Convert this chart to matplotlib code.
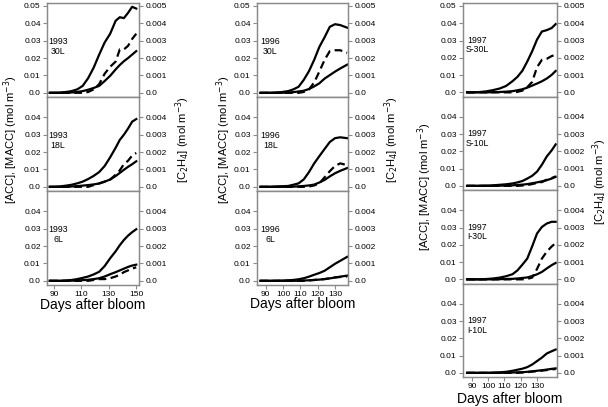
import numpy as np
import matplotlib.pyplot as plt

plt.rcParams['font.family'] = ['Liberation Sans', 'DejaVu Sans']

# sampling days (days after bloom)
days_93 = [87, 91, 95, 99, 103, 107, 111, 115, 119, 123, 127, 131, 135, 138, 141, 144, 147, 150]
days_96 = [87, 91, 95, 99, 103, 106, 109, 112, 115, 118, 121, 124, 127, 130, 133, 137]
days_97 = [87, 91, 95, 99, 103, 107, 111, 115, 118, 121, 124, 127, 130, 133, 136, 139, 141.5]

# 1993
acc_93_30L = [0.0, 0.0, 0.0002, 0.0005, 0.001, 0.002, 0.004, 0.0085, 0.0145, 0.022, 0.029, 0.034, 0.0415, 0.0435, 0.043, 0.046, 0.0495, 0.0485]
macc_93_30L = [0.0, 0.0, 0.0, 0.0001, 0.0002, 0.0005, 0.001, 0.0018, 0.0028, 0.004, 0.0068, 0.0098, 0.0135, 0.016, 0.0182, 0.020, 0.022, 0.024]
eth_93_30L = [0, 0, 0, 0, 0, 0, 0, 0.00005, 0.0002, 0.0005, 0.0011, 0.0015, 0.0018, 0.0025, 0.0025, 0.0027, 0.0031, 0.0034]

acc_93_18L = [0.0, 0.0, 0.0003, 0.0007, 0.0012, 0.002, 0.003, 0.0045, 0.0063, 0.0085, 0.012, 0.017, 0.0225, 0.027, 0.030, 0.0335, 0.0375, 0.039]
macc_93_18L = [0, 0, 0, 0, 0.0002, 0.0004, 0.0007, 0.001, 0.0014, 0.0019, 0.003, 0.0042, 0.0062, 0.008, 0.0098, 0.0115, 0.013, 0.0147]
eth_93_18L = [0, 0, 0, 0, 0, 0, 0, 0, 0.0001, 0.0002, 0.0003, 0.00042, 0.0007, 0.00095, 0.0013, 0.0015, 0.0018, 0.00195]

acc_93_6L = [0, 0, 0, 0.0002, 0.0005, 0.001, 0.0017, 0.0025, 0.0037, 0.0052, 0.0085, 0.013, 0.017, 0.0205, 0.0235, 0.026, 0.028, 0.0297]
macc_93_6L = [0, 0, 0, 0, 0.0001, 0.0002, 0.0004, 0.0006, 0.001, 0.0015, 0.0025, 0.0038, 0.005, 0.006, 0.007, 0.008, 0.0088, 0.0093]
eth_93_6L = [0, 0, 0, 0, 0, 0, 0, 0, 0.00005, 0.0001, 0.0001, 0.00015, 0.00025, 0.00035, 0.0005, 0.0006, 0.0007, 0.00078]

# 1996
acc_96_30L = [0, 0, 0.0001, 0.0004, 0.001, 0.002, 0.0035, 0.0075, 0.0125, 0.019, 0.0265, 0.032, 0.038, 0.0395, 0.039, 0.0375]
macc_96_30L = [0, 0, 0, 0, 0.0002, 0.0004, 0.0008, 0.0012, 0.0022, 0.0037, 0.0055, 0.0082, 0.0102, 0.0122, 0.014, 0.0162]
eth_96_30L = [0, 0, 0, 0, 0, 0, 0, 0.00005, 0.0002, 0.0006, 0.00123, 0.0019, 0.0024, 0.00245, 0.00245, 0.0023]

acc_96_18L = [0, 0, 0.0001, 0.0003, 0.0005, 0.0012, 0.002, 0.0043, 0.0085, 0.0135, 0.0177, 0.0218, 0.0258, 0.028, 0.0285, 0.028]
macc_96_18L = [0, 0, 0, 0, 0, 0.0001, 0.0003, 0.0005, 0.0008, 0.0013, 0.0025, 0.004, 0.006, 0.0078, 0.0092, 0.0108]
eth_96_18L = [0, 0, 0, 0, 0, 0, 0, 0, 0.00002, 0.00008, 0.0002, 0.00055, 0.0009, 0.0012, 0.00135, 0.00125]

acc_96_6L = [0, 0, 0, 0.0001, 0.0003, 0.0005, 0.0009, 0.0015, 0.0024, 0.0035, 0.0045, 0.0058, 0.0078, 0.0098, 0.0115, 0.0138]
macc_96_6L = [0, 0, 0, 0, 0, 0, 0.0001, 0.0002, 0.0003, 0.0005, 0.0007, 0.001, 0.0014, 0.0019, 0.0024, 0.003]
eth_96_6L = [0, 0, 0, 0, 0, 0, 0, 0, 0.00002, 0.00005, 0.00008, 0.0001, 0.00015, 0.0002, 0.00022, 0.00025]

# 1997
acc_97_S30L = [0, 0, 0.0002, 0.0006, 0.0013, 0.0022, 0.0037, 0.0065, 0.009, 0.0125, 0.0178, 0.0237, 0.0305, 0.0352, 0.036, 0.0372, 0.0395]
macc_97_S30L = [0, 0, 0, 0, 0.0001, 0.0002, 0.0004, 0.0007, 0.0012, 0.0018, 0.0027, 0.0039, 0.0051, 0.0064, 0.008, 0.0101, 0.0124]
eth_97_S30L = [0, 0, 0, 0, 0, 0, 0, 0, 0.00003, 0.0001, 0.0003, 0.0006, 0.00145, 0.00188, 0.00194, 0.0021, 0.00217]

acc_97_S10L = [0, 0, 0, 0.0001, 0.0003, 0.0006, 0.0009, 0.0014, 0.002, 0.0028, 0.0042, 0.0058, 0.0082, 0.0122, 0.017, 0.0205, 0.024]
macc_97_S10L = [0, 0, 0, 0, 0, 0.0001, 0.0002, 0.0003, 0.0005, 0.0007, 0.001, 0.0015, 0.002, 0.0026, 0.0033, 0.0042, 0.0052]
eth_97_S10L = [0, 0, 0, 0, 0, 0, 0, 0, 0, 0.00002, 0.00005, 0.0001, 0.00017, 0.00022, 0.00035, 0.00045, 0.00055]

acc_97_I30L = [0, 0, 0, 0.0002, 0.0005, 0.001, 0.0018, 0.003, 0.0052, 0.0085, 0.012, 0.019, 0.0265, 0.0303, 0.0323, 0.0333, 0.0333]
macc_97_I30L = [0, 0, 0, 0, 0, 0.0001, 0.0002, 0.0003, 0.0005, 0.0008, 0.0011, 0.0019, 0.0029, 0.0043, 0.0063, 0.0082, 0.0095]
eth_97_I30L = [0, 0, 0, 0, 0, 0, 0, 0, 0, 0, 0.00003, 0.0001, 0.0006, 0.0012, 0.0016, 0.0019, 0.0021]

acc_97_I10L = [0, 0, 0, 0, 0.0001, 0.0003, 0.0006, 0.0012, 0.0018, 0.0024, 0.0033, 0.0048, 0.0068, 0.0088, 0.0112, 0.0125, 0.0135]
macc_97_I10L = [0, 0, 0, 0, 0, 0, 0.0001, 0.0002, 0.0003, 0.0004, 0.0006, 0.0009, 0.0012, 0.0015, 0.0019, 0.0023, 0.0026]
eth_97_I10L = [0, 0, 0, 0, 0, 0, 0, 0, 0, 0.00002, 0.00004, 0.00007, 0.0001, 0.00013, 0.00016, 0.0002, 0.00022]

W, H = 608, 407
grey = '#8a8a8a'
fs_tick = 6

# column geometry in pixels: (left, right, xlim, xticks)
columns = [
    (47, 139, (85, 152), [90, 110, 130, 150]),
    (257, 348, (85, 137.5), [90, 100, 110, 120, 130]),
    (463, 557, (84.5, 142.3), [90, 100, 110, 120, 130]),
]

panels = [
    (0, "1993\n30L", days_93, acc_93_30L, macc_93_30L, eth_93_30L),
    (0, "1993\n18L", days_93, acc_93_18L, macc_93_18L, eth_93_18L),
    (0, "1993\n6L", days_93, acc_93_6L, macc_93_6L, eth_93_6L),
    (1, "1996\n30L", days_96, acc_96_30L, macc_96_30L, eth_96_30L),
    (1, "1996\n18L", days_96, acc_96_18L, macc_96_18L, eth_96_18L),
    (1, "1996\n6L", days_96, acc_96_6L, macc_96_6L, eth_96_6L),
    (2, "1997\nS-30L", days_97, acc_97_S30L, macc_97_S30L, eth_97_S30L),
    (2, "1997\nS-10L", days_97, acc_97_S10L, macc_97_S10L, eth_97_S10L),
    (2, "1997\nI-30L", days_97, acc_97_I30L, macc_97_I30L, eth_97_I30L),
    (2, "1997\nI-10L", days_97, acc_97_I10L, macc_97_I10L, eth_97_I10L),
]

fig = plt.figure(figsize=(W / 100, H / 100), dpi=100)

row_count = {0: 3, 1: 3, 2: 4}
row_idx = {0: 0, 1: 0, 2: 0}
for col, label, days, acc, macc, eth in panels:
    x0, x1, xlim, xticks = columns[col]
    r = row_idx[col]
    row_idx[col] += 1
    h = 94 if col < 2 else 93.5
    top = 3 + r * h
    ax = fig.add_axes([x0 / W, 1 - (top + h) / H, (x1 - x0) / W, h / H])
    ax2 = ax.twinx()

    ax.plot(days, acc, color='k', lw=1.6)
    ax.plot(days, macc, color='k', lw=1.6)
    ax2.plot(days, eth, color='k', lw=1.6, ls='--', dashes=(3.5, 2))

    ax.set_xlim(*xlim)
    ax.set_ylim(-0.0024, 0.0517)
    ax2.set_ylim(-0.00024, 0.00517)

    if r == 0:
        lt = [0, 0.01, 0.02, 0.03, 0.04, 0.05]
        rt = [0, 0.001, 0.002, 0.003, 0.004, 0.005]
    else:
        lt = [0, 0.01, 0.02, 0.03, 0.04]
        rt = [0, 0.001, 0.002, 0.003, 0.004]
    ax.set_yticks(lt)
    ax.set_yticklabels(['0.0'] + ['%g' % v for v in lt[1:]])
    ax2.set_yticks(rt)
    ax2.set_yticklabels(['0.0'] + ['%g' % v for v in rt[1:]])

    last = r == row_count[col] - 1
    if last:
        ax.set_xticks(xticks)
        ax.tick_params(axis='x', direction='out', length=3, color=grey,
                       labelsize=fs_tick, pad=1.5)
    else:
        ax.tick_params(axis='x', bottom=False, labelbottom=False)
    ax2.tick_params(axis='x', bottom=False, labelbottom=False)

    ax.tick_params(axis='y', direction='out', length=3, color=grey,
                   labelsize=fs_tick, pad=1.5)
    ax2.tick_params(axis='y', direction='out', length=3, color=grey,
                    labelsize=fs_tick, pad=1.5)
    for a in (ax, ax2):
        for s in a.spines.values():
            s.set_color(grey)
            s.set_linewidth(0.9)

    tx = [0.12, 0.148, 0.15][col]
    ty = 0.535 if col < 2 else 0.55
    ax.text(tx, ty, label, transform=ax.transAxes, ha='center', va='center',
            fontsize=6.3, multialignment='center', linespacing=1.1)

left_lab = '[ACC], [MACC] (mol m$^{-3}$)'
right_lab = '[C$_2$H$_4$] (mol m$^{-3}$)'
for x, y in [(11, 140), (224, 140), (425, 187)]:
    fig.text(x / W, 1 - y / H, left_lab, rotation=90, ha='center', va='center', fontsize=8)
for x, y in [(183, 140), (392, 140), (600, 182)]:
    fig.text(x / W, 1 - y / H, right_lab, rotation=90, ha='center', va='center', fontsize=8)
for x, y in [(93, 305), (302.5, 304), (510, 399)]:
    fig.text(x / W, 1 - y / H, 'Days after bloom', ha='center', va='center', fontsize=10)

fig.savefig('out.png', dpi=100)
